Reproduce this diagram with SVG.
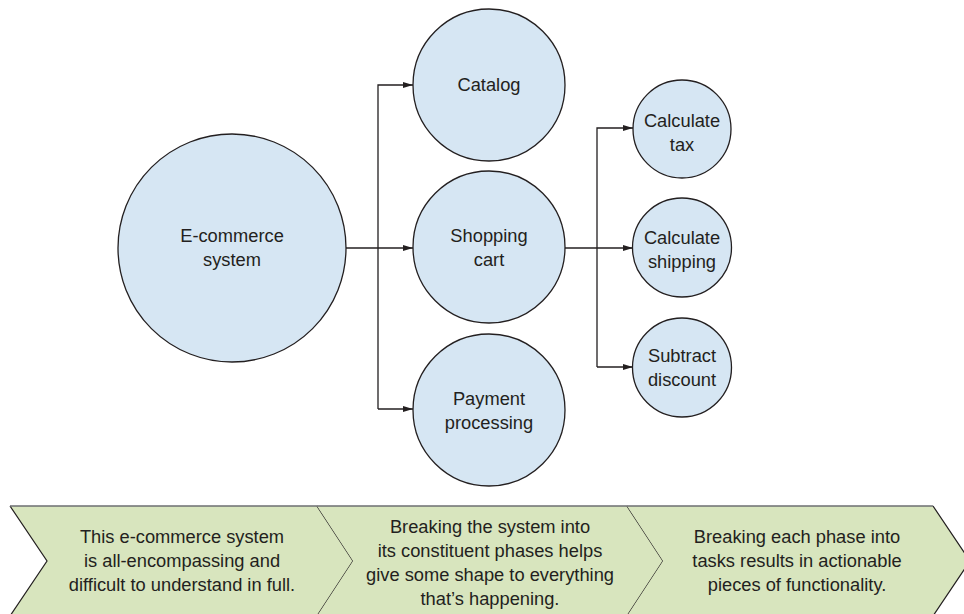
<svg xmlns="http://www.w3.org/2000/svg" width="964" height="614" viewBox="0 0 964 614">
<defs>
<marker id="arr" viewBox="0 0 10 6" refX="10" refY="3" markerWidth="10" markerHeight="6" markerUnits="userSpaceOnUse" orient="auto">
<path d="M0,0 L10,3 L0,6 Z" fill="#231f20"/>
</marker>
</defs>
<style>
.node circle{fill:#d6e6f3;stroke:#231f20;stroke-width:1.3}
text{font-family:"Liberation Sans",Arial,sans-serif;font-size:18.3px;fill:#231f20;text-anchor:middle}
.conn path{fill:none;stroke:#231f20;stroke-width:1.3}
.chev{fill:#d8e5be}
.edge{fill:none;stroke:#231f20;stroke-width:1.2}
.top{stroke:#6d6e71;stroke-width:1.6}
</style>
<rect width="964" height="614" fill="#ffffff"/>

<g id="connectors" class="conn">
<path d="M346,248 H413" marker-end="url(#arr)"/>
<path d="M378,409 V85 H413" marker-end="url(#arr)"/>
<path d="M378,409 H413" marker-end="url(#arr)"/>
<path d="M565,248 H633" marker-end="url(#arr)"/>
<path d="M597,367 V128 H633" marker-end="url(#arr)"/>
<path d="M597,367 H633" marker-end="url(#arr)"/>
</g>

<g id="ecommerce" class="node"><circle cx="232" cy="248" r="114"/><text x="232" y="242">E-commerce</text><text x="232" y="266">system</text></g>
<g id="catalog" class="node"><circle cx="489" cy="85" r="76"/><text x="489" y="91">Catalog</text></g>
<g id="cart" class="node"><circle cx="489" cy="247" r="76"/><text x="489" y="242">Shopping</text><text x="489" y="266">cart</text></g>
<g id="payment" class="node"><circle cx="489" cy="410" r="76"/><text x="489" y="405">Payment</text><text x="489" y="429">processing</text></g>
<g id="tax" class="node"><circle cx="682" cy="129" r="49"/><text x="682" y="127">Calculate</text><text x="682" y="151">tax</text></g>
<g id="shipping" class="node"><circle cx="682" cy="247.5" r="49.5"/><text x="682" y="244">Calculate</text><text x="682" y="268">shipping</text></g>
<g id="discount" class="node"><circle cx="682" cy="367.5" r="49.5"/><text x="682" y="362">Subtract</text><text x="682" y="386">discount</text></g>

<g id="phase1">
<polygon class="chev" points="10,506 317,506 353,561 317,616 10,616 47,561"/>
<path class="edge" d="M10,506 L47,561 L10,616 M317,506 L353,561 L317,616"/>
<text x="182" y="543">This e-commerce system</text>
<text x="182" y="567">is all-encompassing and</text>
<text x="182" y="591">difficult to understand in full.</text>
</g>
<g id="phase2">
<polygon class="chev" points="317,506 627,506 663,561 627,616 317,616 353,561"/>
<path class="edge" d="M627,506 L663,561 L627,616"/>
<text x="490" y="533">Breaking the system into</text>
<text x="490" y="557">its constituent phases helps</text>
<text x="490" y="581">give some shape to everything</text>
<text x="490" y="605">that’s happening.</text>
</g>
<g id="phase3">
<polygon class="chev" points="627,506 933,506 970,561 933,616 627,616 663,561"/>
<path class="edge" d="M933,506 L970,561 L933,616"/>
<text x="797" y="543">Breaking each phase into</text>
<text x="797" y="567">tasks results in actionable</text>
<text x="797" y="591">pieces of functionality.</text>
</g>
<line class="top" x1="10" y1="506" x2="933" y2="506"/>
</svg>
